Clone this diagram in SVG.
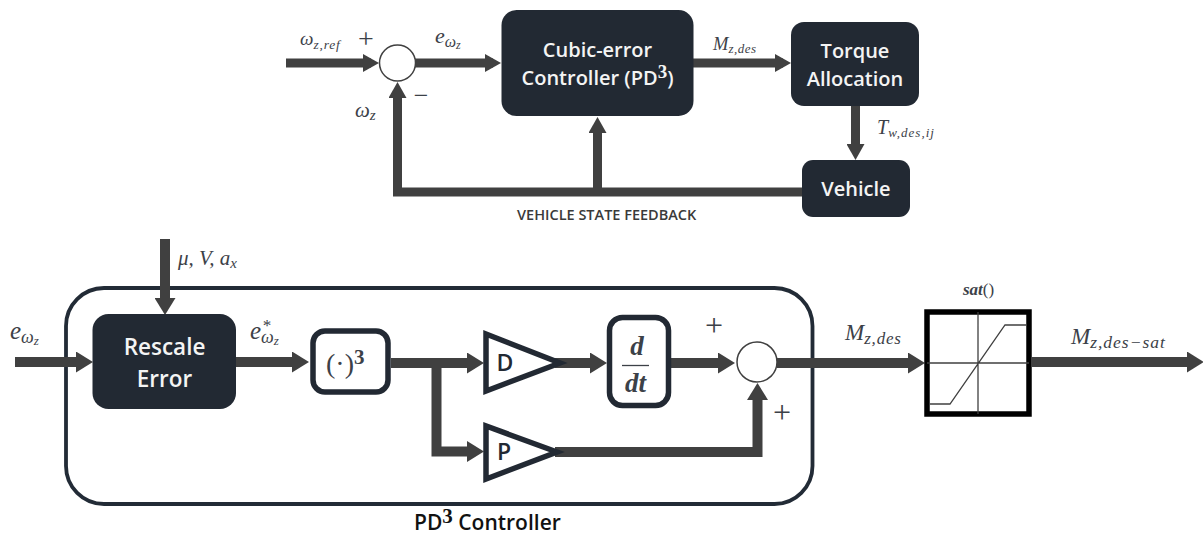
<svg xmlns="http://www.w3.org/2000/svg" width="1203" height="535" viewBox="0 0 1203 535">
<style>
.blk{fill:#222933;stroke:none}
.lbl{font-family:"Open Sans","Liberation Sans",sans-serif;font-weight:600;fill:#f4f4f4;text-anchor:middle;font-size:20px}
.cap{font-family:"Open Sans","Liberation Sans",sans-serif;font-weight:600;fill:#3a3a3a}
.m{font-family:"Liberation Serif","DejaVu Serif",serif;font-style:italic;fill:#3c4148}
.sign{font-family:"Liberation Serif",serif;fill:#3c4148;text-anchor:middle}
.a1{fill:none;stroke:#404040;stroke-width:9;marker-end:url(#h1)}
.a2{fill:none;stroke:#404040;stroke-width:10;marker-end:url(#h2)}
.sum{fill:#fff;stroke:#404040;stroke-width:1.5}
.box{fill:#fff;stroke:#222933;stroke-width:5.5}
.tri{fill:#fff;stroke:#222933;stroke-width:5.5;stroke-linejoin:miter}
.thin{fill:none;stroke:#404040;stroke-width:1.3}
</style>
<defs>
<marker id="h1" markerUnits="userSpaceOnUse" viewBox="0 0 16 18" refX="8" refY="9" markerWidth="16" markerHeight="18" orient="auto"><path d="M0 0L16 9L0 18z" fill="#404040"/></marker>
<marker id="h2" markerUnits="userSpaceOnUse" viewBox="0 0 17 21" refX="8" refY="10.5" markerWidth="17" markerHeight="21" orient="auto"><path d="M0 0L17 10.500L0 21z" fill="#404040"/></marker>
</defs>

<g id="pd3-frame"><rect x="66" y="288" width="746.500" height="216" rx="38" fill="#fff" stroke="#222b36" stroke-width="3.800"/></g>

<g id="connectors">
<path class="a1" d="M286 63H371"/>
<path class="a1" d="M415 63H493"/>
<path class="a1" d="M693 63H783"/>
<path class="a1" d="M855.500 106V152"/>
<path class="a1" d="M802 192H397.500V90"/>
<path class="a1" d="M597.500 192V125"/>
<path class="a2" d="M165 239V306"/>
<path class="a2" d="M15 362H84"/>
<path class="a2" d="M236 362H300"/>
<path class="a2" d="M391 363H475"/>
<path class="a2" d="M436.500 363V451.500H475"/>
<path class="a2" d="M555 363H598"/>
<path class="a2" d="M671 363H726"/>
<path class="a2" d="M555 452H757.500V392"/>
<path class="a2" d="M777 363H916"/>
<path class="a2" d="M1032 362H1195"/>
</g>

<g id="sum-top"><circle class="sum" cx="397.500" cy="63" r="18"/></g>
<g id="controller"><rect class="blk" x="501.500" y="10" width="192" height="106" rx="15"/>
<text class="lbl" x="597.500" y="57">Cubic-error</text>
<text class="lbl" x="597.500" y="85">Controller (PD<tspan font-family="Liberation Serif,serif" font-size="19" dy="-7">3</tspan><tspan dy="7">)</tspan></text></g>
<g id="torque"><rect class="blk" x="791" y="22" width="128" height="84" rx="13"/>
<text class="lbl" x="855" y="58">Torque</text>
<text class="lbl" x="855" y="86">Allocation</text></g>
<g id="vehicle"><rect class="blk" x="802" y="160" width="108" height="57" rx="11"/>
<text class="lbl" x="856" y="196">Vehicle</text></g>
<g id="rescale"><rect class="blk" x="92.500" y="314" width="143.500" height="95" rx="16"/>
<text class="lbl" x="164.500" y="355" style="font-size:22.500px">Rescale</text>
<text class="lbl" x="164.500" y="387" style="font-size:22.500px">Error</text></g>
<g id="cube"><rect class="box" x="313" y="331" width="75" height="61" rx="12"/>
<text class="m" x="326" y="373" font-size="28" style="font-style:normal">(·)<tspan font-size="21" font-weight="700" dy="-9">3</tspan></text></g>
<g id="gain-d"><path class="tri" d="M486 334V391L560 363z"/>
<text x="505" y="371" class="lbl" style="fill:#222933;font-size:23px">D</text></g>
<g id="deriv"><rect class="box" x="609.500" y="317.500" width="59" height="88" rx="13"/>
<text class="m" x="637" y="355" font-size="27" font-weight="700" text-anchor="middle">d</text>
<path d="M622 365.500H649" stroke="#3c4148" stroke-width="1.300"/>
<text class="m" x="635.500" y="392" font-size="27" font-weight="700" text-anchor="middle">dt</text></g>
<g id="sum-bottom"><circle class="sum" cx="757" cy="362" r="20"/></g>
<g id="gain-p"><path class="tri" d="M486 426V479L557 452z"/>
<text x="504" y="460" class="lbl" style="fill:#222933;font-size:23px">P</text></g>
<g id="saturation"><rect x="927" y="312" width="102" height="102" fill="#fff" stroke="#000" stroke-width="5.500"/>
<path class="thin" d="M978 312V414M927 363H1029M930 404H950L1005 325H1027"/></g>

<g id="labels">
<text class="m" x="300" y="45" font-size="19">ω<tspan font-size="13.500" dy="4" letter-spacing="0.800">z,ref</tspan></text>
<text class="sign" x="366" y="48" font-size="28">+</text>
<text class="sign" x="421" y="104" font-size="26">−</text>
<text class="m" x="355" y="117" font-size="21">ω<tspan font-size="15" dy="3">z</tspan></text>
<text class="m" x="435" y="43" font-size="22">e<tspan font-size="16" dy="4">ω</tspan><tspan font-size="12" dy="2">z</tspan></text>
<text class="m" x="713" y="50" font-size="18.500">M<tspan font-size="13" dy="3" letter-spacing="0.500">z,des</tspan></text>
<text class="m" x="877" y="134" font-size="20">T<tspan font-size="13" dy="3" letter-spacing="1">w,des,ij</tspan></text>
<text class="cap" x="517" y="220" font-size="14.500">VEHICLE STATE FEEDBACK</text>
<text class="m" x="178" y="265" font-size="21">μ, V, a<tspan font-size="15" dy="3">x</tspan></text>
<text class="m" x="10" y="339" font-size="25">e<tspan font-size="18" dy="4">ω</tspan><tspan font-size="13" dy="2">z</tspan></text>
<text class="m" x="250" y="339" font-size="25">e<tspan font-size="18" dy="4">ω</tspan><tspan font-size="13" dy="2">z</tspan></text>
<text class="m" x="262" y="331" font-size="17">*</text>
<text class="sign" x="714" y="335.500" font-size="32">+</text>
<text class="sign" x="782" y="422.500" font-size="32">+</text>
<text class="m" x="845" y="340" font-size="23">M<tspan font-size="17" dy="4" letter-spacing="0.800">z,des</tspan></text>
<text class="m" x="1071" y="344" font-size="23">M<tspan font-size="17.500" dy="4" letter-spacing="1">z,des−sat</tspan></text>
<text class="m" x="963" y="295" font-size="17" font-weight="700">sat<tspan font-weight="400" style="font-style:normal">()</tspan></text>
<text x="414" y="530" font-size="21" font-family="Open Sans,Liberation Sans,sans-serif" font-weight="600" fill="#111">PD<tspan font-family="Liberation Serif,serif" font-size="21" dy="-7">3</tspan><tspan dy="7"> Controller</tspan></text>
</g>
</svg>
